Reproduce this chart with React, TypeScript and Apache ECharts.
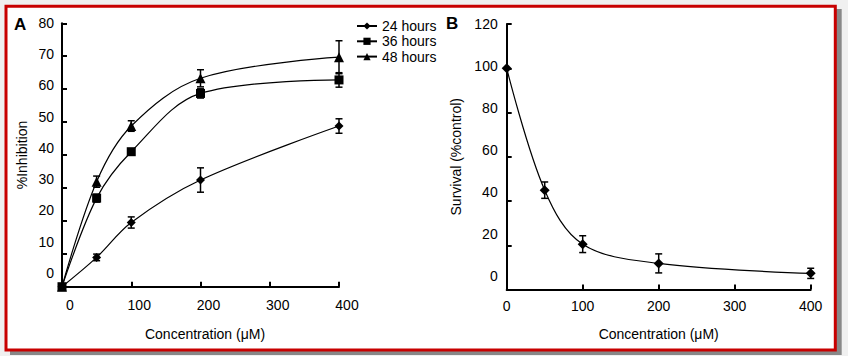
import React, { useEffect, useRef } from "react";
import * as echarts from "echarts";

const concA = [0, 50, 100, 200, 400];
const h24 = [0, 8.9, 19.5, 32.4, 48.8];
const h24Err = [0, 1.0, 1.7, 3.7, 2.2];
const h36 = [0, 26.9, 41.0, 58.7, 62.8];
const h36Err = [0, 1.2, 0.8, 1.4, 2.2];
const h48 = [0, 31.9, 48.8, 63.3, 69.7];
const h48Err = [0, 1.7, 1.6, 2.6, 5.0];

const concB = [0, 50, 100, 200, 400];
const survival = [100, 44.9, 20.5, 11.8, 7.3];
const survErr = [0, 3.7, 3.8, 4.3, 2.3];

const seriesNames = ["24 hours", "36 hours", "48 hours"];
const xTicks = [0, 100, 200, 300, 400];
const yTicksA = [0, 10, 20, 30, 40, 50, 60, 70, 80];
const yTicksB = [0, 20, 40, 60, 80, 100, 120];

const FONT = "Liberation Sans, Arial, sans-serif";

function errData(xs: number[], ys: number[], es: number[]) {
  return xs
    .map((x, i) => [x, ys[i] - es[i], ys[i] + es[i]])
    .filter((d, i) => es[i] > 0);
}

function errSeries(xs: number[], ys: number[], es: number[], idx: number) {
  return {
    type: "custom",
    xAxisIndex: idx,
    yAxisIndex: idx,
    silent: true,
    z: 3,
    data: errData(xs, ys, es),
    renderItem: (params: any, api: any) => {
      const x = api.value(0);
      const lo = api.coord([x, api.value(1)]);
      const hi = api.coord([x, api.value(2)]);
      const w = 3.5;
      const st = { stroke: "#000", lineWidth: 1.5 };
      return {
        type: "group",
        children: [
          { type: "line", shape: { x1: lo[0], y1: lo[1], x2: hi[0], y2: hi[1] }, style: st },
          { type: "line", shape: { x1: lo[0] - w, y1: lo[1], x2: lo[0] + w, y2: lo[1] }, style: st },
          { type: "line", shape: { x1: hi[0] - w, y1: hi[1], x2: hi[0] + w, y2: hi[1] }, style: st },
        ],
      };
    },
  };
}

function pairs(xs: number[], ys: number[]) {
  return xs.map((x, i) => [x, ys[i]]);
}

// per-label vertical drift of the scanned tick labels (px upward)
function yLabelRich(ticks: number[], drift: (v: number) => number) {
  const rich: any = {};
  ticks.forEach((v) => {
    const d = Math.round(drift(v));
    rich["t" + v] = {
      fontSize: 14,
      fontFamily: FONT,
      color: "#000",
      padding: [0, 0, 2 * d, 0],
    };
  });
  return rich;
}

export default function App() {
  const ref = useRef<HTMLDivElement>(null);
  useEffect(() => {
    document.body.style.margin = "0";
    const chart = echarts.init(ref.current!, undefined, { renderer: "svg" });
    const axisLine = { show: true, onZero: false, lineStyle: { color: "#000", width: 2 } };
    const axisTick = { show: true, inside: true, length: 5, lineStyle: { color: "#000", width: 2 } };
    const lineCommon = {
      type: "line",
      smooth: 0.35,
      lineStyle: { color: "#000", width: 1.2 },
      itemStyle: { color: "#000" },
      z: 4,
    };
    const option: any = {
      animation: false,
      backgroundColor: "#f0f0f0",
      graphic: [
        { type: "rect", z: -10, shape: { x: 10, y: 9, width: 831.7, height: 346 }, style: { fill: "#888" } },
        {
          type: "rect",
          z: -9,
          shape: { x: 6, y: 6.3, width: 829.3, height: 343.7 },
          style: { fill: "#fff", stroke: "#c80000", lineWidth: 3 },
        },
        {
          type: "text",
          left: 14,
          top: 16,
          style: { text: "A", font: "bold 17px " + FONT, fill: "#000" },
        },
        {
          type: "text",
          left: 446,
          top: 15,
          style: { text: "B", font: "bold 17px " + FONT, fill: "#000" },
        },
      ],
      legend: {
        data: seriesNames,
        orient: "vertical",
        left: 351,
        top: 14,
        itemWidth: 20,
        itemHeight: 9,
        itemGap: 1.3,
        textStyle: { fontSize: 14, fontFamily: FONT, color: "#000", lineHeight: 14 },
      },
      grid: [
        { left: 62, top: 23.3, width: 277, height: 263.4 },
        { left: 506.7, top: 24, width: 304, height: 265.5 },
      ],
      xAxis: [
        {
          gridIndex: 0,
          type: "value",
          min: 0,
          max: 400,
          interval: 100,
          axisLine,
          axisTick,
          splitLine: { show: false },
          axisLabel: {
            margin: 11,
            fontSize: 14,
            fontFamily: FONT,
            color: "#000",
            padding: [0, 0, 0, 16],
            formatter: (v: number) => (xTicks.includes(v) ? String(v) : ""),
          },
          name: "Concentration (\u03bcM)",
          nameLocation: "middle",
          nameGap: 40,
          nameTextStyle: { fontSize: 14, fontFamily: FONT, color: "#000", padding: [0, 0, 0, 9] },
        },
        {
          gridIndex: 1,
          type: "value",
          min: 0,
          max: 400,
          interval: 100,
          axisLine,
          axisTick,
          splitLine: { show: false },
          axisLabel: {
            margin: 9,
            fontSize: 14,
            fontFamily: FONT,
            color: "#000",
            formatter: (v: number) => (xTicks.includes(v) ? String(v) : ""),
          },
          name: "Concentration (\u03bcM)",
          nameLocation: "middle",
          nameGap: 37,
          nameTextStyle: { fontSize: 14, fontFamily: FONT, color: "#000" },
        },
      ],
      yAxis: [
        {
          gridIndex: 0,
          type: "value",
          min: 0,
          max: 80,
          interval: 10,
          axisLine,
          axisTick,
          splitLine: { show: false },
          axisLabel: {
            margin: 8,
            formatter: (v: number) => `{t${v}|${v}}`,
            rich: yLabelRich(yTicksA, (v) => ((80 - v) / 80) * 14),
          },
          name: "%Inhibition",
          nameLocation: "middle",
          nameGap: 33,
          nameRotate: 90,
          nameTextStyle: { fontSize: 14, fontFamily: FONT, color: "#000" },
        },
        {
          gridIndex: 1,
          type: "value",
          min: 0,
          max: 120,
          interval: 20,
          axisLine,
          axisTick,
          splitLine: { show: false },
          axisLabel: {
            margin: 9,
            formatter: (v: number) => `{t${v}|${v}}`,
            rich: yLabelRich(yTicksB, (v) => ((120 - v) / 120) * 13.5),
          },
          name: "Survival (%control)",
          nameLocation: "middle",
          nameGap: 44,
          nameRotate: 90,
          nameTextStyle: { fontSize: 14, fontFamily: FONT, color: "#000" },
        },
      ],
      series: [
        { ...lineCommon, name: seriesNames[0], xAxisIndex: 0, yAxisIndex: 0, symbol: "diamond", symbolSize: 9, data: pairs(concA, h24) },
        { ...lineCommon, name: seriesNames[1], xAxisIndex: 0, yAxisIndex: 0, symbol: "rect", symbolSize: 9, data: pairs(concA, h36) },
        { ...lineCommon, name: seriesNames[2], xAxisIndex: 0, yAxisIndex: 0, symbol: "triangle", symbolSize: 10, data: pairs(concA, h48) },
        errSeries(concA, h24, h24Err, 0),
        errSeries(concA, h36, h36Err, 0),
        errSeries(concA, h48, h48Err, 0),
        { ...lineCommon, name: "Survival", xAxisIndex: 1, yAxisIndex: 1, symbol: "diamond", symbolSize: 10, data: pairs(concB, survival) },
        errSeries(concB, survival, survErr, 1),
      ],
    };
    chart.setOption(option);
    return () => chart.dispose();
  }, []);
  return (
    <div
      ref={ref}
      style={{ position: "absolute", left: 0, top: 0, width: 848, height: 356 }}
    />
  );
}
